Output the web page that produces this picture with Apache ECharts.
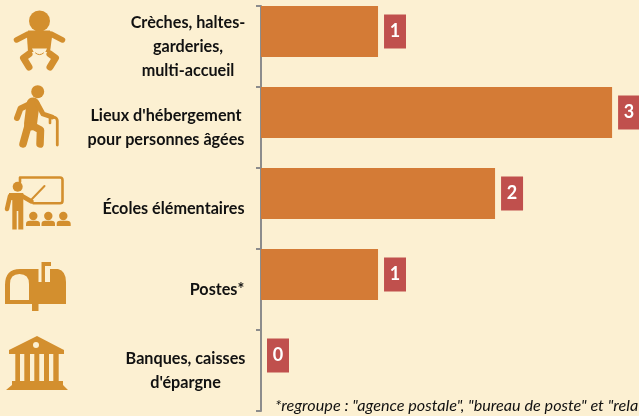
<!DOCTYPE html>
<html><head><meta charset="utf-8">
<style>html,body{margin:0;padding:0;background:#FCF0D2;overflow:hidden}#c{width:639px;height:416px}</style>
<script src="https://cdn.jsdelivr.net/npm/echarts@6/dist/echarts.min.js"></script>
</head><body><div id="c"></div>
<script>
const categories = [
  ["Crèches, haltes-","garderies,","multi-accueil"],
  ["Lieux d'hébergement","pour personnes âgées"],
  ["Écoles élémentaires"],
  ["Postes*"],
  ["Banques, caisses","d'épargne"]
];
const values = [1,3,2,1,0];
const labelBlockWidths = [114,158,143,56,119];
const footnote = '*regroupe : "agence postale", "bureau de poste" et "rela';

const BG='#FCF0D2', ICON='#D38F2E', BAR='#D47B36', BOX='#C0504D', AX='#8C8C8C';
const FONT='Lato';

const rich={};
labelBlockWidths.forEach((w,i)=>{rich['c'+i]={width:w,align:'center',fontFamily:FONT,fontWeight:'bold',fontSize:16.2,lineHeight:24,color:'#111'};});

let shapeId=0;
function reg(d){const n='iconShape'+(shapeId++);echarts.graphic.registerShape(n,echarts.graphic.extendPath(d,{}));return n;}
function fillPath(d,fill){return {type:reg(d),silent:true,style:{fill:fill||ICON}};}
function strokePath(d,w,col){return {type:reg(d),silent:true,style:{fill:null,stroke:col||ICON,lineWidth:w,lineCap:'round',lineJoin:'round'}};}
function circ(x,y,r,fill){return {type:'circle',silent:true,shape:{cx:x,cy:y,r:r},style:{fill:fill||ICON}};}

const icons=[
 // baby
 circ(39.5,21,10.5),
 strokePath('M16.5 40 L28 34',5.5),
 strokePath('M62.5 40 L51 34',5.5),
 fillPath('M28 30.5 L50 30.5 L52 37 L50 52 L28 52 L27 37 Z'),
 strokePath('M29 54 L23.5 58 L29 67',7),
 strokePath('M50 54 L55.5 58 L50 67',7),
 fillPath('M32 48.5 L47 48.5 L43 57 Q42 60 39.5 60 Q37 60 36 57 Z',BG),
 strokePath('M35.5 53 Q39.5 56.5 43.5 53',1,ICON),
 // elderly person
 circ(37.7,91.7,6.5),
 strokePath('M32 103 L20.5 108.5 L17 118',6),
 strokePath('M33 104 L30.5 124',13),
 strokePath('M28 126 L23 144',7.5),
 strokePath('M33 126 L40.5 130 L40 144',7.5),
 strokePath('M37 103 L43 114 L52 117',5),
 strokePath('M52 117 L55 117.5 Q57.3 118.5 57.3 121 L57.3 145',2.8),
 strokePath('M50 118 L50 123',2.6),
 // teacher
 strokePath('M20 182 L20 177.5 L60 177.5 Q62.5 177.5 62.5 180 L62.5 201 Q62.5 203.3 60 203.3 L33.5 203.3',2.6),
 strokePath('M32 199 L44.5 186',2),
 circ(17.7,186.7,5),
 strokePath('M10 196 L7 209',4.5),
 strokePath('M22 196 L31.5 201.5',4.5),
 fillPath('M9 193 L23.3 193 L23.3 229.5 L18.3 229.5 L18.3 211 L16.7 211 L16.7 229.5 L12.3 229.5 L12.3 200 L9 200 Z'),
 circ(33.3,216,4.2),circ(48.3,216,4.2),circ(63.3,216,4.2),
 fillPath('M26 226 L26 224 Q26 220.7 30 220.7 L36 220.7 Q40 220.7 40 224 L40 226 Z'),
 fillPath('M41.5 226 L41.5 224 Q41.5 220.7 45 220.7 L51.5 220.7 Q55 220.7 55 224 L55 226 Z'),
 fillPath('M56.7 226 L56.7 224 Q56.7 220.7 60 220.7 L67 220.7 Q70.7 220.7 70.7 224 L70.7 226 Z'),
 // mailbox
 fillPath('M5 304 L5 285 Q5 269 20 269 L38.5 269 L38.5 282 L41.5 282 L41.5 262 L51 262 L51 266 L45 266 L45 282 L50 282 L50 269 L58 269 Q66 271 66 282 L66 304 L38.5 304 L38.5 311 L32 311 L32 304 Z'),
 fillPath('M10 300 L29 300 L29 284 Q29 274 19.5 274 Q10 274 10 284 Z',BG),
 // bank
 fillPath('M37 336 L62 349 L64 350 L64 354 L9 354 L9 350 L11 349 Z'),
 circ(36,345,3,BG),
 fillPath('M15.3 354 L20 354 L20 381 L15.3 381 Z'),
 fillPath('M24.3 354 L30 354 L30 381 L24.3 381 Z'),
 fillPath('M34.3 354 L39.3 354 L39.3 381 L34.3 381 Z'),
 fillPath('M44 354 L49 354 L49 381 L44 381 Z'),
 fillPath('M53.3 354 L58.7 354 L58.7 381 L53.3 381 Z'),
 fillPath('M12 381 L63 381 L63 385 L68 390 L6 390 L12 385 Z')
];

const chart=echarts.init(document.getElementById('c'),null,{renderer:'canvas'});
chart.setOption({
  animation:false,
  backgroundColor:BG,
  grid:{left:261,top:6,width:378,height:405,containLabel:false},
  xAxis:{type:'value',min:0,max:3.23,show:false},
  yAxis:{type:'category',inverse:true,
    data:categories.map(l=>l.join('\n')),
    axisLine:{lineStyle:{color:AX,width:2}},
    axisTick:{show:true,length:5,lineStyle:{color:AX,width:2}},
    axisLabel:{margin:16,align:'right',interval:0,rich:rich,
      formatter:(v,i)=>v.split('\n').map(t=>'{c'+i+'|'+t+'}').join('\n')}},
  series:[
    {type:'bar',name:'Équipements',data:values,barWidth:51,barGap:0,
     itemStyle:{color:BAR},
     label:{show:true,position:'right',distance:6,
       formatter:'{b|{c}}',
       rich:{b:{color:'#fff',fontFamily:FONT,fontWeight:'bold',fontSize:18,
       backgroundColor:BOX,width:22,height:34,lineHeight:34,align:'center',verticalAlign:'middle'}}}},
    {type:'bar',name:'spacer',data:[],barWidth:30,barGap:0,silent:true}
  ],
  graphic:icons.concat([
    {type:'text',silent:true,left:275,top:398,style:{text:footnote,fontFamily:FONT,fontStyle:'italic',fontSize:16.2,fill:'#111'}}
  ])
});
</script></body></html>
